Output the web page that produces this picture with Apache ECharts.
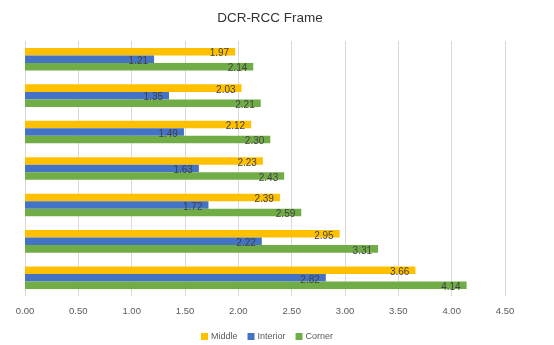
<!DOCTYPE html>
<html>
<head>
<meta charset="utf-8">
<script src="https://cdn.jsdelivr.net/npm/echarts@6/dist/echarts.min.js"></script>
<style>
  html, body { margin: 0; padding: 0; background: #fff; }
  #chart { width: 554px; height: 345px; }
</style>
</head>
<body>
<div id="chart"></div>
<script>
// Seven load cases, listed from top to bottom
const categories = ['1', '2', '3', '4', '5', '6', '7'];
const middle   = [1.97, 2.03, 2.12, 2.23, 2.39, 2.95, 3.66];
const interior = [1.21, 1.35, 1.49, 1.63, 1.72, 2.22, 2.82];
const corner   = [2.14, 2.21, 2.30, 2.43, 2.59, 3.31, 4.14];
const xTicks = [0, 0.5, 1, 1.5, 2, 2.5, 3, 3.5, 4, 4.5];

const FONT = '"Liberation Sans", Arial, sans-serif';

function barSeries(name, data, color) {
  return {
    name: name,
    type: 'bar',
    data: data,
    barGap: '0%',
    barCategoryGap: '38%',
    itemStyle: { color: color },
    label: {
      show: true,
      position: 'insideRight',
      distance: 6,
      offset: [0, 2],
      color: '#404040',
      fontFamily: FONT,
      fontSize: 10,
      formatter: p => p.value.toFixed(2)
    }
  };
}

const chart = echarts.init(document.getElementById('chart'), null, { renderer: 'canvas' });
chart.setOption({
  animation: false,
  title: {
    text: 'DCR-RCC Frame',
    left: 265,
    textAlign: 'center',
    top: 6,
    textStyle: { fontFamily: FONT, fontSize: 13.5, fontWeight: 'normal', color: '#333333' }
  },
  legend: {
    top: 327,
    left: 196,
    itemWidth: 7,
    itemHeight: 7,
    itemGap: 10,
    icon: 'rect',
    textStyle: { fontFamily: FONT, fontSize: 9, color: '#595959', padding: [0, 0, 0, -2] },
    data: ['Middle', 'Interior', 'Corner']
  },
  grid: { left: 25, right: 49, top: 41, bottom: 49, containLabel: false },
  xAxis: {
    type: 'value',
    min: xTicks[0],
    max: xTicks[xTicks.length - 1],
    interval: 0.5,
    axisLine: { show: false },
    axisTick: { show: false },
    splitLine: { lineStyle: { color: '#d9d9d9', width: 1 } },
    axisLabel: {
      color: '#595959',
      fontFamily: FONT,
      fontSize: 9.5,
      margin: 10,
      formatter: v => v.toFixed(2)
    }
  },
  yAxis: {
    type: 'category',
    data: categories,
    inverse: true,
    axisLine: { show: false },
    axisTick: { show: false },
    axisLabel: { show: false }
  },
  series: [
    barSeries('Middle', middle, '#FFC000'),
    barSeries('Interior', interior, '#4472C4'),
    barSeries('Corner', corner, '#70AD47')
  ]
});
</script>
</body>
</html>
